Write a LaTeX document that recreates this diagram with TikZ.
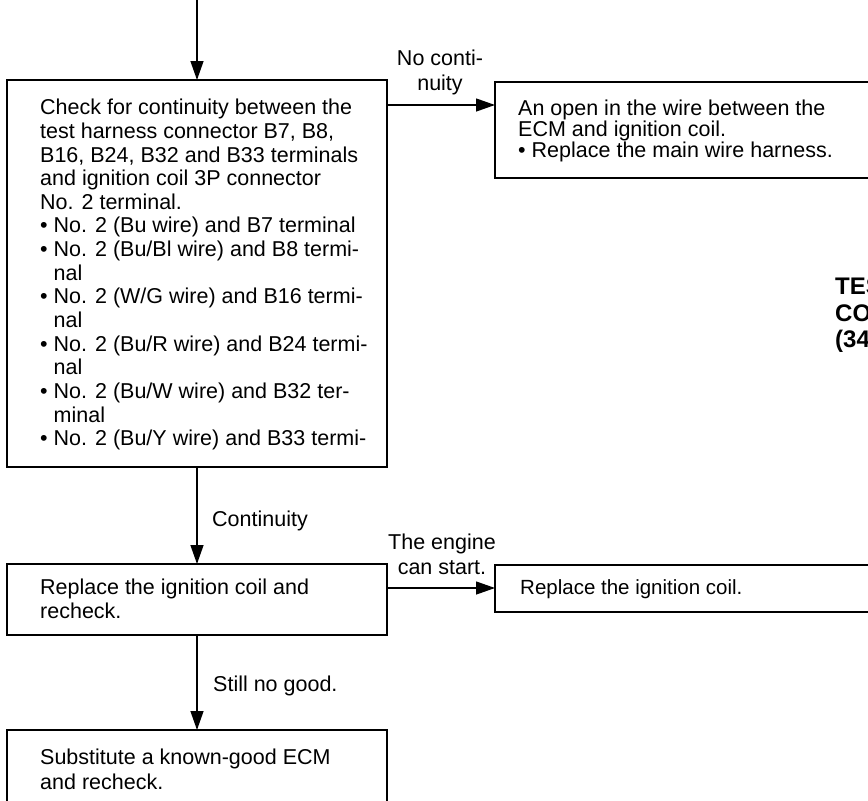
\documentclass[tikz,border=0pt]{standalone}
\usepackage{fontspec}
\setmainfont{Liberation Sans}
\usetikzlibrary{arrows.meta}
\begin{document}
\begin{tikzpicture}[x=1pt,y=-1pt,
  stepbox/.style={draw, line width=1.4pt, rectangle, anchor=north west, inner sep=0pt, outer sep=0pt},
  body/.style={anchor=north west, inner sep=0pt, align=left,
    font=\fontsize{21.5}{23.64}\selectfont},
  lbl/.style={inner sep=0pt, align=center,
    font=\fontsize{21.5}{24.5}\selectfont},
  flow/.style={line width=1.3pt, -{Triangle[length=19pt,width=13pt]}}]
\useasboundingbox (0,0) rectangle (868,801);
\clip (0,0) rectangle (868,801);

% boxes
\node[stepbox, minimum width=380pt, minimum height=387pt] (box1) at (7,80) {};
\node[stepbox, minimum width=400pt, minimum height=96pt]  (box2) at (495,82) {};
\node[stepbox, minimum width=380pt, minimum height=71pt]  (box3) at (7,564) {};
\node[stepbox, minimum width=400pt, minimum height=47pt]  (box4) at (495,565) {};
\node[stepbox, minimum width=380pt, minimum height=100pt] (box5) at (7,730) {};

% box texts
\node[body] (t1) at (40,99) {Check for continuity between the\\
test harness connector B7, B8,\\
B16, B24, B32 and B33 terminals\\
and ignition coil 3P connector\\
No. 2 terminal.\\
• No. 2 (Bu wire) and B7 terminal\\
• No. 2 (Bu/Bl wire) and B8 termi-\\
\phantom{• }nal\\
• No. 2 (W/G wire) and B16 termi-\\
\phantom{• }nal\\
• No. 2 (Bu/R wire) and B24 termi-\\
\phantom{• }nal\\
• No. 2 (Bu/W wire) and B32 ter-\\
\phantom{• }minal\\
• No. 2 (Bu/Y wire) and B33 termi-};

\node[body, font=\fontsize{21.5}{21}\selectfont] (t2) at (518,100)
  {An open in the wire between the\\
   ECM and ignition coil.\\
   • Replace the main wire harness.};

\node[body] (t3) at (40,579) {Replace the ignition coil and\\recheck.};
\node[body, anchor=west, font=\fontsize{20.5}{21}\selectfont] (t4) at (520,589)
  {Replace the ignition coil.};
\node[body, font=\fontsize{21.5}{25}\selectfont] (t5) at (40,749)
  {Substitute a known-good ECM\\and recheck.};

% side heading at the page edge
\node[anchor=north west, inner sep=0pt, align=left,
  font=\fontsize{24}{26.5}\selectfont\bfseries] (side) at (835,278)
  {TES\\CO\\(34};

% connectors
\coordinate (entry) at (197,-2);
\draw[flow] (entry) -- (box1.north);
\draw[flow] ([yshift=-25pt]box1.north east) -- ([yshift=-23pt]box2.north west);
\draw[flow] (box1.south) -- (box3.north);
\draw[flow] ([yshift=-24pt]box3.north east) -- ([yshift=-23pt]box4.north west);
\draw[flow] (box3.south) -- (box5.north);

% connector labels
\node[lbl, anchor=north] (l1) at (440,50) {No conti-\\nuity};
\node[lbl, anchor=west] (l2) at (212,521) {Continuity};
\node[lbl, anchor=north] (l3) at (442,534) {The engine\\can start.};
\node[lbl, anchor=west] (l4) at (213,686) {Still no good.};
\end{tikzpicture}
\end{document}
